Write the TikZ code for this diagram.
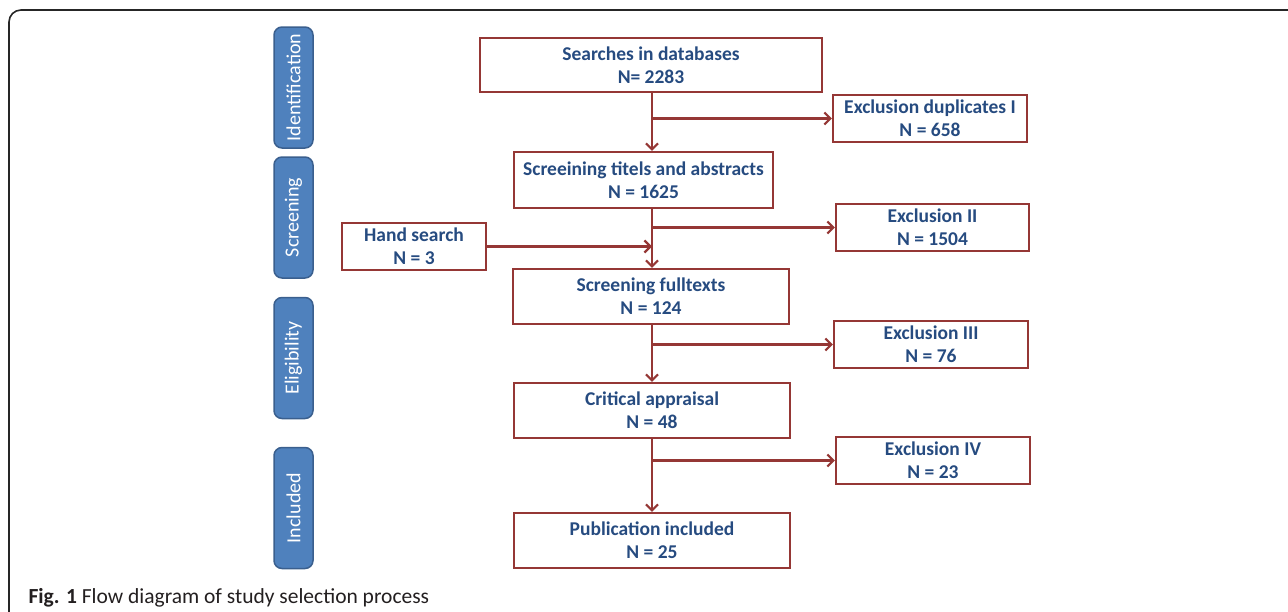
\documentclass[tikz,border=0pt]{standalone}
\usepackage{fontspec}
\setmainfont{Carlito}
\usetikzlibrary{positioning,arrows.meta}
\definecolor{boxred}{HTML}{953735}
\definecolor{textblue}{HTML}{264B80}
\definecolor{phasefill}{HTML}{4F81BD}
\definecolor{phaseline}{HTML}{3A5F8E}
\definecolor{captext}{HTML}{231F20}

\begin{document}
\begin{tikzpicture}[x=1pt,y=-1pt,
    stepbox/.style={rectangle,draw=boxred,line width=2.2pt,fill=white,text=textblue,
      font=\bfseries\fontsize{19.5}{23}\selectfont,align=center,inner sep=0pt},
    phase/.style={rectangle,rounded corners=8pt,draw=phaseline,line width=1.5pt,
      fill=phasefill,text=white,font=\fontsize{20}{22}\selectfont,rotate=90,
      minimum width=121pt,minimum height=39pt,inner sep=0pt},
    flow/.style={draw=boxred,line width=2.2pt,-{Straight Barb[length=6pt,width=12pt]}}]
  \useasboundingbox (0,0) rectangle (1288,611);
  \draw[line width=1.6pt,rounded corners=12pt,draw=black!85] (9,640) -- (9,10) -- (1320,10);

  % phases
  \node[phase] (ident) at (293.5,87.5) {Identification};
  \node[phase] (screen) at (293.5,217.5) {Screening};
  \node[phase] (elig) at (293.5,358) {Eligibility};
  \node[phase] (incl) at (293.5,508) {Included};

  % main column
  \node[stepbox,minimum width=342pt,minimum height=54pt] (search) at (651,65) {Searches in databases\\N= 2283};
  \node[stepbox,minimum width=259pt,minimum height=56pt] (scrTA) at (643.5,180) {Screeining titels and abstracts\\N = 1625};
  \node[stepbox,minimum width=276pt,minimum height=55pt] (scrFT) at (651,296.5) {Screening fulltexts\\N = 124};
  \node[stepbox,minimum width=276pt,minimum height=55pt] (crit) at (652,410.5) {Critical appraisal\\N = 48};
  \node[stepbox,minimum width=276pt,minimum height=55pt] (pub) at (652,540.5) {Publication included\\N = 25};

  % exclusions
  \node[stepbox,minimum width=194pt,minimum height=47pt] (excl1) at (930,118.5) {Exclusion duplicates I\\N = 658};
  \node[stepbox,minimum width=193pt,minimum height=47pt] (excl2) at (932.5,227.5) {Exclusion II\\N = 1504};
  \node[stepbox,minimum width=194pt,minimum height=47pt] (excl3) at (931,344.5) {Exclusion III\\N = 76};
  \node[stepbox,minimum width=194pt,minimum height=47pt] (excl4) at (933,460.5) {Exclusion IV\\N = 23};
  \node[stepbox,minimum width=144pt,minimum height=47pt] (hand) at (414,246.5) {Hand search\\N = 3};

  \coordinate (trunk) at (652,0);

  % arrows
  \draw[flow] (search.south -| trunk) -- (scrTA.north -| trunk);
  \draw[flow] (scrTA.south -| trunk) -- (scrFT.north -| trunk);
  \draw[flow] (scrFT.south -| trunk) -- (crit.north -| trunk);
  \draw[flow] (crit.south -| trunk) -- (pub.north -| trunk);
  \draw[flow] (excl1.west -| trunk) -- (excl1.west);
  \draw[flow] (excl2.west -| trunk) -- (excl2.west);
  \draw[flow] (excl3.west -| trunk) -- (excl3.west);
  \draw[flow] (excl4.west -| trunk) -- (excl4.west);
  \draw[flow] (hand.east) -- (hand.east -| trunk);

  \node[anchor=base west,text=captext,font=\fontsize{21.5}{23}\selectfont] (caption) at (25,603)
    {\textbf{Fig. 1} Flow diagram of study selection process};
\end{tikzpicture}
\end{document}
